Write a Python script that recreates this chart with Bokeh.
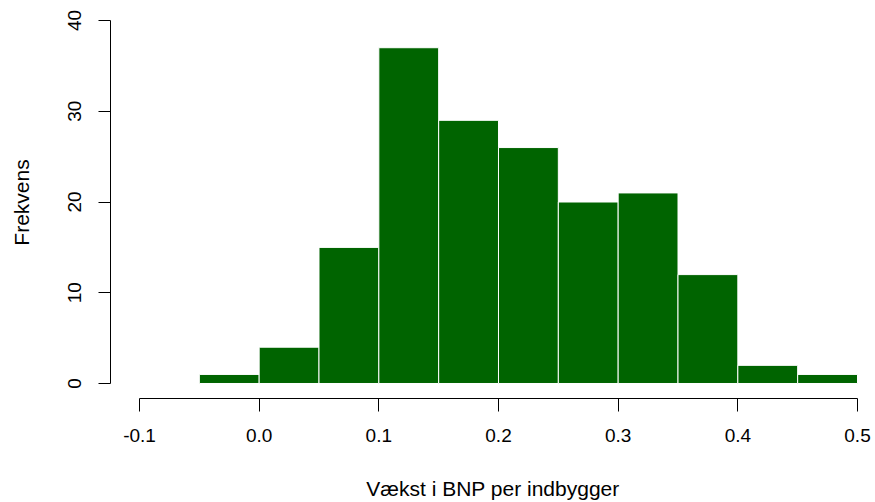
from bokeh.plotting import figure
from bokeh.models import FixedTicker, Range1d, ColumnDataSource
from bokeh.embed import file_html
from bokeh.resources import INLINE

# Histogram data (bin edges and counts)
bin_edges = [-0.05, 0.0, 0.05, 0.10, 0.15, 0.20, 0.25, 0.30, 0.35, 0.40, 0.45, 0.50]
counts = [1, 4, 15, 37, 29, 26, 20, 21, 12, 2, 1]
x_ticks = [-0.1, 0.0, 0.1, 0.2, 0.3, 0.4, 0.5]
x_tick_labels = ["-0.1", "0.0", "0.1", "0.2", "0.3", "0.4", "0.5"]
y_ticks = [0, 10, 20, 30, 40]

src = ColumnDataSource(dict(
    left=bin_edges[:-1],
    right=bin_edges[1:],
    top=counts,
    bottom=[0] * len(counts),
))

FONT = "Liberation Sans"

p = figure(width=875, height=502, output_backend="svg", toolbar_location=None,
           x_range=Range1d(-0.12423, 0.51504), y_range=Range1d(-1.653, 41.543),
           min_border_left=110, min_border_right=0, min_border_top=6,
           min_border_bottom=104, background_fill_color="white",
           border_fill_color="white")
p.outline_line_color = None
p.xgrid.visible = False
p.ygrid.visible = False

p.quad(left="left", right="right", top="top", bottom="bottom", source=src,
       fill_color="#006400", line_color="white", line_width=1)

# x axis
xa = p.xaxis[0]
xa.ticker = FixedTicker(ticks=x_ticks)
xa.major_label_overrides = {t: l for t, l in zip(x_ticks, x_tick_labels)}
xa.bounds = (-0.1, 0.5)
xa.axis_label = "Vækst i BNP per indbygger"
xa.minor_tick_line_color = None
xa.major_tick_in = 0
xa.major_tick_out = 13
xa.major_label_standoff = 17
xa.axis_label_standoff = 32
xa.axis_line_color = "black"
xa.major_tick_line_color = "black"
xa.major_label_text_font = FONT
xa.major_label_text_font_size = "19px"
xa.major_label_text_color = "black"
xa.axis_label_text_font = FONT
xa.axis_label_text_font_size = "21px"
xa.axis_label_text_font_style = "normal"
xa.axis_label_text_color = "black"

# y axis
ya = p.yaxis[0]
ya.ticker = FixedTicker(ticks=y_ticks)
ya.bounds = (0, 40)
ya.axis_label = "Frekvens"
ya.minor_tick_line_color = None
ya.major_tick_in = 0
ya.major_tick_out = 12
ya.major_label_standoff = 17
ya.major_label_orientation = "parallel"
ya.axis_label_standoff = 33
ya.axis_line_color = "black"
ya.major_tick_line_color = "black"
ya.major_label_text_font = FONT
ya.major_label_text_font_size = "19px"
ya.major_label_text_color = "black"
ya.axis_label_text_font = FONT
ya.axis_label_text_font_size = "21px"
ya.axis_label_text_font_style = "normal"
ya.axis_label_text_color = "black"

open("out.html", "w").write(file_html(p, INLINE))
